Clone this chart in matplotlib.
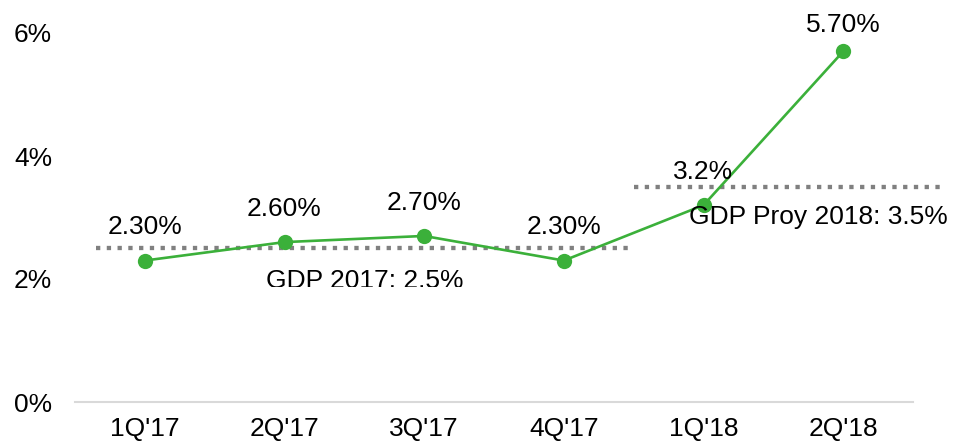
import matplotlib
matplotlib.use("Agg")
import matplotlib.pyplot as plt
from matplotlib.transforms import Bbox, TransformedBbox

plt.rcParams['font.family'] = ['Liberation Sans', 'DejaVu Sans']

categories = ["1Q'17", "2Q'17", "3Q'17", "4Q'17", "1Q'18", "2Q'18"]
growth = [2.3, 2.6, 2.7, 2.3, 3.2, 5.7]
value_labels = ["2.30%", "2.60%", "2.70%", "2.30%", "3.2%", "5.70%"]
gdp_2017 = 2.5
gdp_2018 = 3.5
gdp_2017_label = "GDP 2017: 2.5%"
gdp_2018_label = "GDP Proy 2018: 3.5%"
yticks = [0, 2, 4, 6]
ytick_labels = ["0%", "2%", "4%", "6%"]

W, H = 957, 445
fig = plt.figure(figsize=(W / 100, H / 100), dpi=100)
ax = fig.add_axes([75 / W, (H - 402) / H, (913 - 75) / W, (402 - 33) / H])

x = list(range(len(categories)))
green = '#3BB03A'
gray = '#808080'

# GDP reference lines
ax.plot([-0.35, 3.5], [gdp_2017, gdp_2017], color=gray, lw=3.1,
        linestyle=(0, (1, 1.5)), dash_capstyle='butt', zorder=2)
ax.plot([3.5, 5.73], [gdp_2018, gdp_2018], color=gray, lw=3.1,
        linestyle=(0, (1, 1.5)), dash_capstyle='butt', zorder=2, clip_on=False)

ax.plot(x, growth, color=green, lw=1.9, marker='o', markersize=11,
        markeredgewidth=0, zorder=3, clip_on=False)

fs = 19
for i, (v, lab) in enumerate(zip(growth, value_labels)):
    off = 19 if i == len(growth) - 1 else 24
    ax.annotate(lab, (i, v), xytext=(0, off), textcoords='offset points',
                ha='center', va='center', fontsize=fs, color='black',
                annotation_clip=False, zorder=4)

t1 = ax.text(1.575, 1.86, gdp_2017_label, ha='center', va='baseline',
             fontsize=fs, color='black', zorder=4)
t1.set_clip_box(TransformedBbox(Bbox([[0, (H - 287) / H], [1, 1]]), fig.transFigure))
t1.set_clip_on(True)

ax.text(4.825, 2.894, gdp_2018_label, ha='center', va='baseline',
        fontsize=fs, color='black', zorder=4, clip_on=False)

ax.set_xlim(-0.5, len(categories) - 0.5)
ax.set_ylim(0, 6)
ax.set_xticks(x)
ax.set_xticklabels(categories, fontsize=fs)
ax.set_yticks(yticks)
ax.set_yticklabels(ytick_labels, fontsize=fs)
ax.tick_params(axis='both', length=0)
ax.tick_params(axis='y', pad=16.5)
ax.tick_params(axis='x', pad=11)

for s in ['top', 'right', 'left']:
    ax.spines[s].set_visible(False)
ax.spines['bottom'].set_color('#d9d9d9')
ax.spines['bottom'].set_linewidth(1.5)
ax.patch.set_visible(False)

fig.savefig('out.png', dpi=100)
